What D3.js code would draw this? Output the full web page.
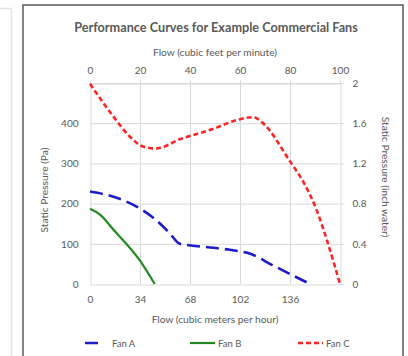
<!DOCTYPE html>
<html><head><meta charset="utf-8">
<script src="https://cdn.jsdelivr.net/npm/d3@7"></script>
<style>body{margin:0;background:#fff}svg{display:block}</style>
</head><body><svg id="c" width="408" height="356"></svg>
<script>
const title = "Performance Curves for Example Commercial Fans";
const topTitle = "Flow (cubic feet per minute)";
const bottomTitle = "Flow (cubic meters per hour)";
const leftTitle = "Static Pressure (Pa)";
const rightTitle = "Static Pressure (inch water)";
const bottomTicks = [0, 34, 68, 102, 136];
const topTicks = [0, 20, 40, 60, 80, 100];
const leftTicks = [0, 100, 200, 300, 400];
const rightTicks = [0, 0.4, 0.8, 1.2, 1.6, 2];
const seriesNames = ["Fan A", "Fan B", "Fan C"];
const fanAFlow = [0, 16, 32, 43, 54, 61, 66, 84, 95, 109, 124, 148];
const fanAPa   = [230, 217, 192, 165, 127, 100, 97, 90, 85, 75, 47, 3];
const fanBFlow = [0, 7, 16, 34, 44];
const fanBPa   = [187, 172, 135, 58, 0];
const fanCFlow = [0, 15.6, 27, 36, 45, 61, 83, 102, 111, 117, 136, 146, 154, 161, 170];
const fanCPa   = [498, 418, 367, 342, 337, 360, 385, 410, 415, 402, 305, 248, 185, 110, 0];

const svg = d3.select("#c");
const L = 90, R = 340, T = 83, B = 284;
const x = d3.scaleLinear().domain([0, 170]).range([L, R]);
const xTop = d3.scaleLinear().domain([0, 100]).range([L, R]);
const y = d3.scaleLinear().domain([0, 500]).range([B, T]);
const yR = d3.scaleLinear().domain([0, 2]).range([B, T]);
const font = "Lato, 'Open Sans', sans-serif";
const grey = "#595959", gridC = "#d9d9d9";

// background panels
svg.append("path").attr("d", "M0,8.5H11.5V356").attr("fill", "none").attr("stroke", "#e3e3e3").attr("stroke-width", 1.5);
svg.append("rect").attr("x", 23).attr("y", 5).attr("width", 380).attr("height", 360)
  .attr("fill", "#fff").attr("stroke", "#5a5a5a").attr("stroke-width", 1.5);

// gridlines
const g = svg.append("g");
g.selectAll(".hg").data([100, 200, 300, 400, 500]).join("line")
  .attr("x1", L).attr("x2", R).attr("y1", d => y(d) + 0.5).attr("y2", d => y(d) + 0.5)
  .attr("stroke", gridC).attr("stroke-width", 1);
g.selectAll(".vg").data([20, 40, 60, 80]).join("line")
  .attr("y1", T).attr("y2", B).attr("x1", d => xTop(d) + 0.5).attr("x2", d => xTop(d) + 0.5)
  .attr("stroke", gridC).attr("stroke-width", 1);

// axes
function styleAxis(sel) {
  sel.select(".domain").attr("stroke", gridC);
  sel.selectAll(".tick line").attr("stroke", gridC);
  sel.selectAll("text").attr("fill", grey).attr("font-family", font).attr("font-size", 10);
}
svg.append("g").attr("transform", `translate(0,${B + 0.5})`)
  .call(d3.axisBottom(x).tickValues(bottomTicks).tickSize(0).tickPadding(11).tickSizeOuter(0))
  .call(styleAxis);
svg.append("g").attr("transform", `translate(0,${T + 0.5})`)
  .call(d3.axisTop(xTop).tickValues(topTicks).tickSize(3).tickPadding(7).tickSizeOuter(0))
  .call(styleAxis);
svg.append("g").attr("transform", `translate(${L + 0.5},0)`)
  .call(d3.axisLeft(y).tickValues(leftTicks).tickSize(0).tickPadding(12).tickSizeOuter(0))
  .call(styleAxis);
svg.append("g").attr("transform", `translate(${R + 0.5},0)`)
  .call(d3.axisRight(yR).tickValues(rightTicks).tickSize(4).tickPadding(8).tickSizeOuter(0).tickFormat(d3.format("~g")))
  .call(styleAxis);

// series
const series = [
  {name: seriesNames[0], flow: fanAFlow, pa: fanAPa, color: "#1c1cc8", dash: "13,6", width: 2.6},
  {name: seriesNames[1], flow: fanBFlow, pa: fanBPa, color: "#238a23", dash: null, width: 2.2},
  {name: seriesNames[2], flow: fanCFlow, pa: fanCPa, color: "#ff2424", dash: "5,3", width: 2.6}
];
const line = d3.line().x(d => x(d[0])).y(d => y(d[1])).curve(d3.curveMonotoneX);
series.forEach(s => {
  svg.append("path").datum(s.flow.map((f, i) => [f, s.pa[i]]))
    .attr("d", line).attr("fill", "none").attr("stroke", s.color)
    .attr("stroke-width", s.width).attr("stroke-dasharray", s.dash);
});

// titles
svg.append("text").attr("x", 216).attr("y", 32).attr("text-anchor", "middle")
  .attr("font-family", font).attr("font-weight", "bold").attr("font-size", 12.7).attr("fill", grey).text(title);
svg.append("text").attr("x", 215).attr("y", 56).attr("text-anchor", "middle")
  .attr("font-family", font).attr("font-size", 10.2).attr("fill", grey).text(topTitle);
svg.append("text").attr("x", 215).attr("y", 323).attr("text-anchor", "middle")
  .attr("font-family", font).attr("font-size", 10.2).attr("fill", grey).text(bottomTitle);
svg.append("text").attr("transform", "translate(48,190) rotate(-90)").attr("text-anchor", "middle")
  .attr("font-family", font).attr("font-size", 10.2).attr("fill", grey).text(leftTitle);
svg.append("text").attr("transform", "translate(382,177) rotate(90)").attr("text-anchor", "middle")
  .attr("font-family", font).attr("font-size", 10.2).attr("fill", grey).text(rightTitle);

// legend
const legX = [80, 190, 298];
series.forEach((s, i) => {
  const lg = svg.append("g").attr("transform", `translate(${legX[i]},343)`);
  lg.append("line").attr("x1", 0).attr("x2", 25).attr("y1", 0).attr("y2", 0)
    .attr("stroke", s.color).attr("stroke-width", s.width)
    .attr("stroke-dasharray", s.dash ? (i === 0 ? "0,5,13,10" : s.dash) : null);
  lg.append("text").attr("x", i === 0 ? 32 : 28).attr("y", 3.5).attr("font-family", font)
    .attr("font-size", 9.5).attr("fill", grey).text(s.name);
});
</script></body></html>
